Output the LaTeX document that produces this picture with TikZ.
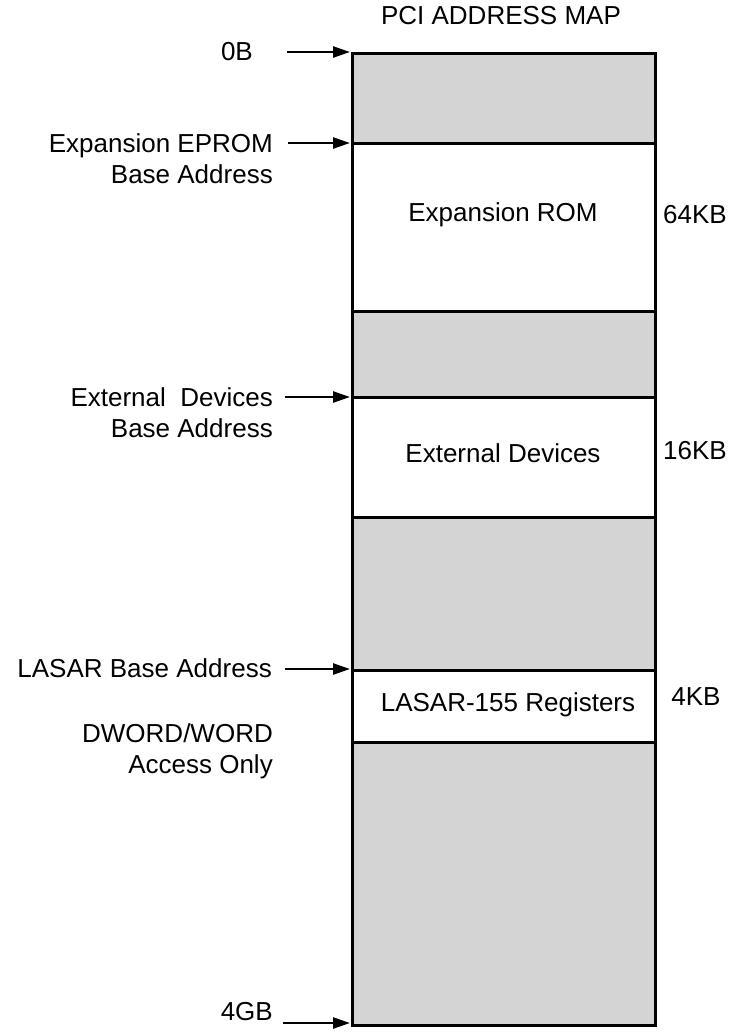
\documentclass[tikz,border=0pt]{standalone}
\usepackage{fontspec}
\setmainfont{Liberation Sans}
\usetikzlibrary{arrows.meta, positioning}

\tikzset{
    mapfont/.style={font=\fontsize{26}{31.5}\selectfont},
    freearea/.style={draw=black, line width=3pt, fill=black!17},
    usedarea/.style={draw=black, line width=3pt, fill=white},
    leftlabel/.style={mapfont, inner sep=0pt, align=right},
    sizelabel/.style={mapfont, inner sep=0pt},
    pointer/.style={line width=2.5pt, -{Triangle[length=17pt, width=11pt]}},
}

\begin{document}
\begin{tikzpicture}[x=1pt, y=-1pt]
    \useasboundingbox (0,0) rectangle (730,1034);
    \node[mapfont] (title) at (501,16) {PCI ADDRESS MAP};

    % whole space first, the decoded windows on top of it
    \draw[freearea] (352,53) rectangle (655,1025);
    \draw[usedarea] (352,143) rectangle (655,311);
    \draw[usedarea] (352,397) rectangle (655,517);
    \draw[usedarea] (352,670) rectangle (655,742);

    \node[mapfont] (rom) at (503,215) {Expansion ROM};
    \node[mapfont] (extdev) at (503,453) {External Devices};
    \node[mapfont] (regs) at (508,705) {LASAR-155 Registers};

    \node[sizelabel] (romsize) at (695,215) {64KB};
    \node[sizelabel] (extsize) at (695,451) {16KB};
    \node[sizelabel] (regsize) at (696,697) {4KB};

    % base addresses on the left
    \node[leftlabel, anchor=east] (zero) at (253,52) {0B};
    \node[leftlabel, anchor=north east] (rombase) at (273,133) {Expansion EPROM\\Base Address};
    \node[leftlabel, anchor=north east] (extbase) at (273,387) {External~ Devices\\Base Address};
    \node[leftlabel, anchor=east] (lasarbase) at (272,668) {LASAR Base Address};
    \node[leftlabel, anchor=north east] (access) at (273,723) {DWORD/WORD\\Access Only};
    \node[leftlabel, anchor=east] (top) at (273,1012) {4GB};

    \coordinate (zerofrom) at (287,52);
    \coordinate (zeroto) at (350,52);
    \coordinate (romfrom) at (288,143);
    \coordinate (romto) at (350,143);
    \coordinate (extfrom) at (285,397);
    \coordinate (extto) at (350,397);
    \coordinate (lasarfrom) at (285,669);
    \coordinate (lasarto) at (350,669);
    \coordinate (topfrom) at (283,1023);
    \coordinate (topto) at (350,1023);

    \draw[pointer] (zerofrom) -- (zeroto);
    \draw[pointer] (romfrom) -- (romto);
    \draw[pointer] (extfrom) -- (extto);
    \draw[pointer] (lasarfrom) -- (lasarto);
    \draw[pointer] (topfrom) -- (topto);
\end{tikzpicture}
\end{document}
